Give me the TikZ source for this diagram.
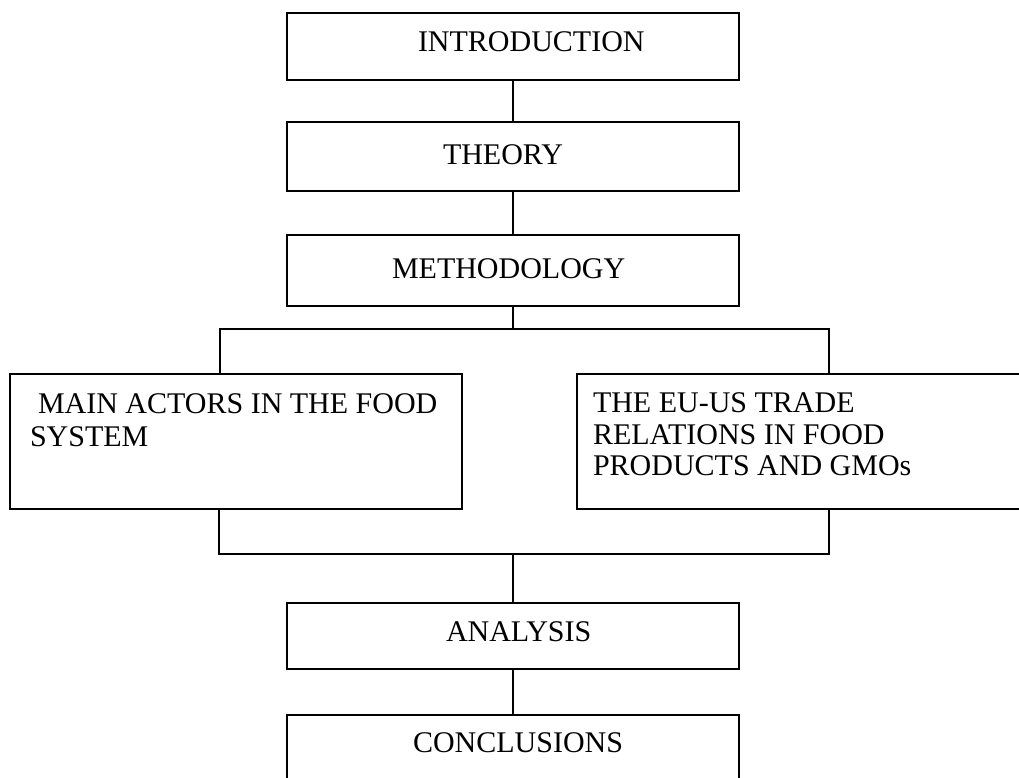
\documentclass[tikz,border=0pt]{standalone}
\usepackage{fontspec}
\setmainfont{Liberation Serif}
\begin{document}
\begin{tikzpicture}[x=1pt,y=-1pt,
  box/.style={draw=black,line width=1.3pt,inner sep=0pt,outer sep=0pt,rectangle},
  lbl/.style={inner sep=0pt,outer sep=0pt,anchor=base west,font=\fontsize{30}{33}\selectfont},
  conn/.style={draw=black,line width=1.3pt}]
\clip (0,0) rectangle (1019,778);
\fill[white] (0,0) rectangle (1019,778);
% boxes
\node[box,minimum width=452pt,minimum height=67pt] (intro) at (513,46.5) {};
\node[box,minimum width=452pt,minimum height=69pt] (theory) at (513,156.5) {};
\node[box,minimum width=452pt,minimum height=71pt] (meth) at (513,270.5) {};
\node[box,minimum width=452pt,minimum height=135pt] (left) at (236,441.5) {};
\node[box,minimum width=450pt,minimum height=135pt] (right) at (802,441.5) {};
\node[box,minimum width=452pt,minimum height=66pt] (anal) at (513,636) {};
\node[box,minimum width=452pt,minimum height=68pt] (concl) at (513,749) {};
% labels
\node[lbl] (tintro) at (418,52) {INTRODUCTION};
\node[lbl] (ttheory) at (443,165) {THEORY};
\node[lbl] (tmeth) at (392,278) {METHODOLOGY};
\node[lbl] (tleft1) at (38,413) {MAIN ACTORS IN THE FOOD};
\node[lbl] (tleft2) at (30,446) {SYSTEM};
\node[lbl] (tright1) at (593,412) {THE EU-US TRADE};
\node[lbl] (tright2) at (593,444) {RELATIONS IN FOOD};
\node[lbl] (tright3) at (593,475) {PRODUCTS AND GMOs};
\node[lbl] (tanal) at (446,641) {ANALYSIS};
\node[lbl] (tconcl) at (413,752) {CONCLUSIONS};
% connector points
\coordinate (split) at (513,329);
\coordinate (lt) at (220,374);
\coordinate (rt) at (829,374);
\coordinate (merge) at (513,554);
\coordinate (lb) at (219,509);
\coordinate (rb) at (829,509);
% connectors
\draw[conn] (intro.south) -- (theory.north);
\draw[conn] (theory.south) -- (meth.north);
\draw[conn] (meth.south) -- (split);
\draw[conn] (lt) |- (split) -| (rt);
\draw[conn] (lb) |- (merge) -| (rb);
\draw[conn] (merge) -- (anal.north);
\draw[conn] (anal.south) -- (concl.north);
\end{tikzpicture}
\end{document}
